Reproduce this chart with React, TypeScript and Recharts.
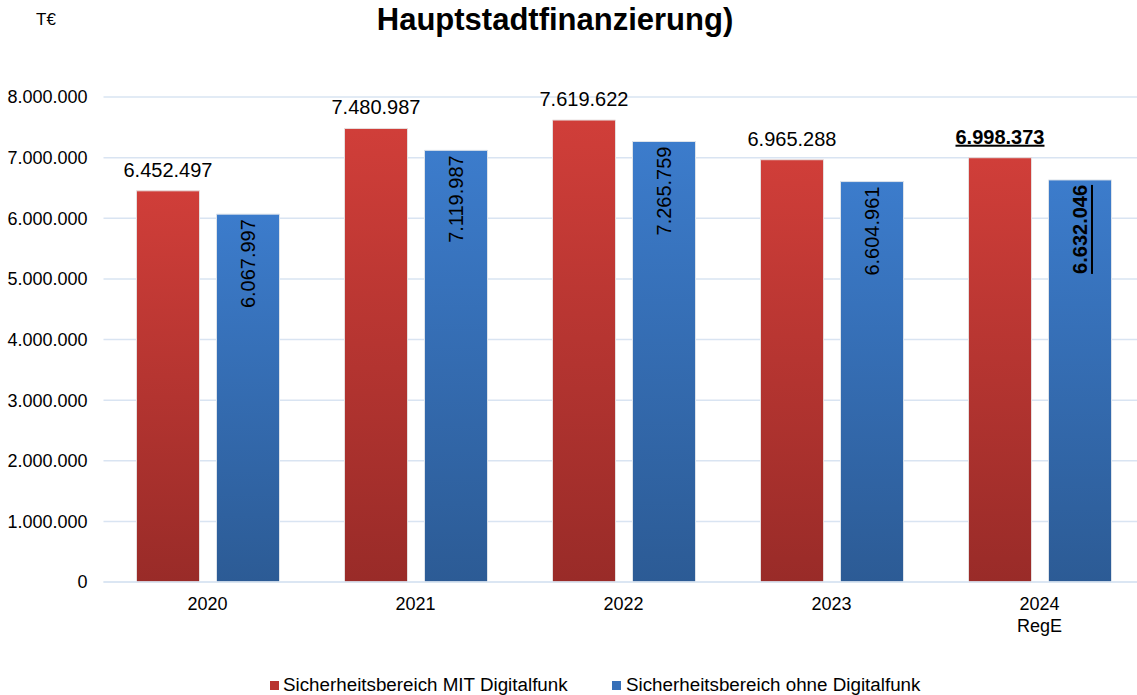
import React from "react"
import { Bar, BarChart, CartesianGrid, LabelList, XAxis, YAxis } from "recharts"

const categories = ["2020", "2021", "2022", "2023", "2024\nRegE"]
const mitDigitalfunk = [6452497, 7480987, 7619622, 6965288, 6998373]
const ohneDigitalfunk = [6067997, 7119987, 7265759, 6604961, 6632046]
const yTicks = [0, 1000000, 2000000, 3000000, 4000000, 5000000, 6000000, 7000000, 8000000]
const highlightIndex = 4

const FONT = '"Liberation Sans", Arial, Helvetica, sans-serif'
const GRID = "#d9e4f2"

const data = categories.map((c, i) => ({
  name: c,
  mit: mitDigitalfunk[i],
  ohne: ohneDigitalfunk[i],
}))

function fmt(v: number): string {
  return String(Math.round(v)).replace(/\B(?=(\d{3})+(?!\d))/g, ".")
}

function XTick(props: any) {
  const { x, y, payload } = props
  const lines = String(payload.value).split("\n")
  return (
    <g>
      {lines.map((l, i) => (
        <text
          key={i}
          x={x}
          y={y + 28 + i * 22}
          textAnchor="middle"
          fontSize={18}
          fontFamily={FONT}
          fill="#000"
        >
          {l}
        </text>
      ))}
    </g>
  )
}

function TopLabel(props: any) {
  const { x, y, width, value, index } = props
  const hi = index === highlightIndex
  return (
    <text
      x={x + width / 2}
      y={y - 14}
      textAnchor="middle"
      fontSize={20}
      fontFamily={FONT}
      fontWeight={hi ? "bold" : "normal"}
      textDecoration={hi ? "underline" : undefined}
      fill="#000"
    >
      {fmt(value)}
    </text>
  )
}

function InsideLabel(props: any) {
  const { x, y, width, value, index } = props
  const hi = index === highlightIndex
  const cx = x + width / 2
  const ty = y + 5
  return (
    <text
      x={cx}
      y={ty}
      transform={`rotate(-90, ${cx}, ${ty})`}
      textAnchor="end"
      dominantBaseline="central"
      fontSize={20}
      fontFamily={FONT}
      fontWeight={hi ? "bold" : "normal"}
      textDecoration={hi ? "underline" : undefined}
      fill="#000"
    >
      {fmt(value)}
    </text>
  )
}

export default function App() {
  return (
    <div
      style={{
        position: "fixed",
        left: 0,
        top: 0,
        width: 1137,
        height: 695,
        overflow: "hidden",
        background: "#fff",
        fontFamily: FONT,
      }}
    >
      <div
        style={{
          position: "absolute",
          left: 36,
          top: 10,
          fontSize: 17,
          color: "#000",
        }}
      >
        T€
      </div>
      <div
        style={{
          position: "absolute",
          left: 0,
          width: 1110,
          top: 2,
          textAlign: "center",
          fontSize: 31,
          fontWeight: "bold",
          color: "#000",
          lineHeight: "35px",
        }}
      >
        Hauptstadtfinanzierung)
      </div>

      <div style={{ position: "absolute", left: 0, top: 0 }}>
        <BarChart
          width={1150}
          height={695}
          data={data}
          margin={{ top: 97, right: 6.5, bottom: 63, left: 0 }}
          barCategoryGap={32}
          barGap={17}
        >
          <defs>
            <linearGradient id="gradRed" x1="0" y1="0" x2="0" y2="1">
              <stop offset="0%" stopColor="#d03e39" />
              <stop offset="100%" stopColor="#992b28" />
            </linearGradient>
            <linearGradient id="gradBlue" x1="0" y1="0" x2="0" y2="1">
              <stop offset="0%" stopColor="#3c7ccc" />
              <stop offset="100%" stopColor="#2c5b95" />
            </linearGradient>
          </defs>
          <CartesianGrid vertical={false} stroke={GRID} strokeWidth={1.5} />
          <XAxis
            dataKey="name"
            height={50}
            axisLine={{ stroke: GRID, strokeWidth: 1.5 }}
            tickLine={false}
            tickSize={0}
            tickMargin={0}
            interval={0}
            tick={<XTick />}
          />
          <YAxis
            width={103.5}
            domain={[0, 8000000]}
            ticks={yTicks}
            axisLine={false}
            tickLine={false}
            tickSize={0}
            tickMargin={16}
            tickFormatter={fmt}
            tick={{ fontSize: 18, fontFamily: FONT, fill: "#000" }}
          />
          <Bar
            dataKey="mit"
            barSize={63}
            fill="url(#gradRed)"
            stroke="#e6dede"
            strokeWidth={1}
            isAnimationActive={false}
          >
            <LabelList dataKey="mit" content={<TopLabel />} />
          </Bar>
          <Bar
            dataKey="ohne"
            barSize={63}
            fill="url(#gradBlue)"
            stroke="#dde3ea"
            strokeWidth={1}
            isAnimationActive={false}
          >
            <LabelList dataKey="ohne" content={<InsideLabel />} />
          </Bar>
        </BarChart>
      </div>

      <div
        style={{
          position: "absolute",
          top: 674,
          left: 0,
          width: 1137,
          height: 24,
          fontSize: 18.8,
          color: "#000",
          whiteSpace: "nowrap",
        }}
      >
        <span style={{ position: "absolute", left: 270, top: 7, width: 9, height: 9, background: "#b8332f" }} />
        <span style={{ position: "absolute", left: 283, top: 0 }}>Sicherheitsbereich MIT Digitalfunk</span>
        <span style={{ position: "absolute", left: 612, top: 7, width: 9, height: 9, background: "#3770b8" }} />
        <span style={{ position: "absolute", left: 626, top: 0 }}>Sicherheitsbereich ohne Digitalfunk</span>
      </div>
    </div>
  )
}
